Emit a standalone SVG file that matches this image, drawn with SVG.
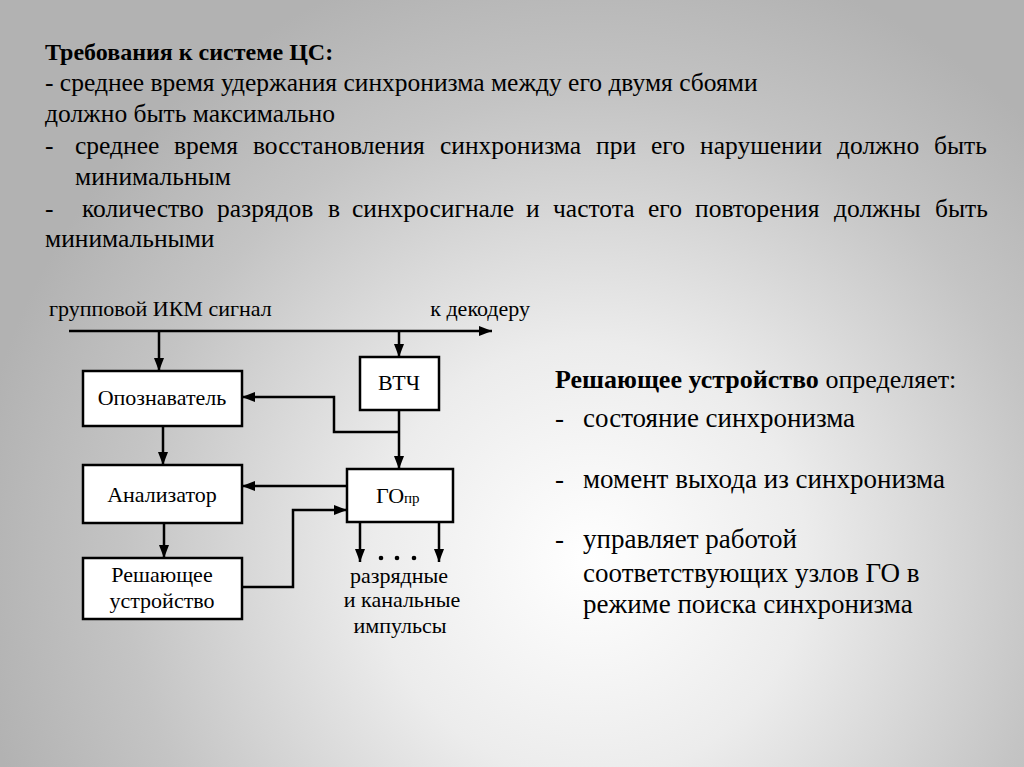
<svg xmlns="http://www.w3.org/2000/svg" width="1024" height="767" viewBox="0 0 1024 767">
<defs>
<radialGradient id="bg" gradientUnits="userSpaceOnUse" cx="590" cy="560" r="620">
<stop offset="0" stop-color="#ffffff"/>
<stop offset="0.35" stop-color="#ececec"/>
<stop offset="0.75" stop-color="#c4c4c4"/>
<stop offset="1" stop-color="#b2b2b2"/>
</radialGradient>
<marker id="ah" viewBox="0 0 13 10" refX="13" refY="5" markerWidth="13" markerHeight="10" markerUnits="userSpaceOnUse" orient="auto">
<path d="M0,0 L13,5 L0,10 Z" fill="#000"/>
</marker>
</defs>
<rect x="0" y="0" width="1024" height="767" fill="url(#bg)"/>

<g id="requirements">
<text x="45" y="60" font-family="Liberation Serif" font-size="24" font-weight="bold">Требования к системе ЦС:</text>
<text x="45" y="91" font-family="Liberation Serif" font-size="25.5">- среднее время удержания синхронизма между его двумя сбоями</text>
<text x="45" y="122" font-family="Liberation Serif" font-size="25.5">должно быть максимально</text>
<text x="45" y="154" font-family="Liberation Serif" font-size="25.5">-</text>
<text y="154" font-family="Liberation Serif" font-size="25.5"><tspan x="75">среднее</tspan> <tspan x="174">время</tspan> <tspan x="253">восстановления</tspan> <tspan x="440">синхронизма</tspan> <tspan x="596">при</tspan> <tspan x="651">его</tspan> <tspan x="700">нарушении</tspan> <tspan x="837">должно</tspan> <tspan x="934">быть</tspan></text>
<text x="75" y="185" font-family="Liberation Serif" font-size="25.5">минимальным</text>
<text x="45" y="217" font-family="Liberation Serif" font-size="25.5">-</text>
<text y="217" font-family="Liberation Serif" font-size="25.5"><tspan x="82">количество</tspan> <tspan x="217">разрядов</tspan> <tspan x="328">в</tspan> <tspan x="352">синхросигнале</tspan> <tspan x="526">и</tspan> <tspan x="553">частота</tspan> <tspan x="648">его</tspan> <tspan x="695">повторения</tspan> <tspan x="834">должны</tspan> <tspan x="935">быть</tspan></text>
<text x="45" y="247" font-family="Liberation Serif" font-size="25.5">минимальными</text>
</g>

<g id="labels">
<text x="49" y="316" font-family="Liberation Serif" font-size="22">групповой ИКМ сигнал</text>
<text x="530" y="316" font-family="Liberation Serif" font-size="22" text-anchor="end">к декодеру</text>
</g>

<g id="connectors" fill="none" stroke="#000" stroke-width="2.5">
<line x1="69" y1="331" x2="492" y2="331" marker-end="url(#ah)"/>
<line x1="159" y1="331" x2="159" y2="371" marker-end="url(#ah)"/>
<line x1="399" y1="331" x2="399" y2="357" marker-end="url(#ah)"/>
<polyline points="399,432 334,432 334,397 242,397" marker-end="url(#ah)"/>
<line x1="399" y1="410" x2="399" y2="469" marker-end="url(#ah)"/>
<line x1="163" y1="426" x2="163" y2="465" marker-end="url(#ah)"/>
<line x1="347" y1="486" x2="242" y2="486" marker-end="url(#ah)"/>
<line x1="164" y1="523" x2="164" y2="558" marker-end="url(#ah)"/>
<polyline points="242,587 293,587 293,510 347,510" marker-end="url(#ah)"/>
<line x1="360" y1="522" x2="360" y2="562" marker-end="url(#ah)"/>
<line x1="439" y1="522" x2="439" y2="562" marker-end="url(#ah)"/>
</g>

<g id="opoznavatel">
<rect x="83" y="371" width="159" height="55" fill="#fff" stroke="#000" stroke-width="2.5"/>
<text x="162" y="405" font-family="Liberation Serif" font-size="22" text-anchor="middle">Опознаватель</text>
</g>
<g id="vtch">
<rect x="360" y="357" width="79" height="53" fill="#fff" stroke="#000" stroke-width="2.5"/>
<text x="399" y="390" font-family="Liberation Serif" font-size="22" text-anchor="middle">ВТЧ</text>
</g>
<g id="analizator">
<rect x="83" y="465" width="159" height="58" fill="#fff" stroke="#000" stroke-width="2.5"/>
<text x="162" y="502" font-family="Liberation Serif" font-size="22" text-anchor="middle">Анализатор</text>
</g>
<g id="gopr">
<rect x="347" y="469" width="106" height="53" fill="#fff" stroke="#000" stroke-width="2.5"/>
<text x="376" y="503" font-family="Liberation Serif" font-size="22">ГО<tspan font-size="15">пр</tspan></text>
</g>
<g id="reshayushchee">
<rect x="83" y="558" width="159" height="61" fill="#fff" stroke="#000" stroke-width="2.5"/>
<text x="162" y="582" font-family="Liberation Serif" font-size="22" text-anchor="middle">Решающее</text>
<text x="162" y="608" font-family="Liberation Serif" font-size="22" text-anchor="middle">устройство</text>
</g>
<g id="outputs">
<circle cx="381" cy="558" r="2.3" fill="#000"/>
<circle cx="397" cy="558" r="2.3" fill="#000"/>
<circle cx="414" cy="558" r="2.3" fill="#000"/>
<text x="399" y="583" font-family="Liberation Serif" font-size="22" text-anchor="middle">разрядные</text>
<text x="402" y="607" font-family="Liberation Serif" font-size="22" text-anchor="middle">и канальные</text>
<text x="400" y="633" font-family="Liberation Serif" font-size="22" text-anchor="middle">импульсы</text>
</g>

<g id="decision">
<text x="555" y="388" font-family="Liberation Serif" font-size="26"><tspan font-weight="bold">Решающее устройство</tspan> определяет:</text>
<text x="555" y="427" font-family="Liberation Serif" font-size="27">-</text>
<text x="583" y="427" font-family="Liberation Serif" font-size="27">состояние синхронизма</text>
<text x="555" y="488" font-family="Liberation Serif" font-size="27">-</text>
<text x="583" y="488" font-family="Liberation Serif" font-size="27">момент выхода из синхронизма</text>
<text x="555" y="548" font-family="Liberation Serif" font-size="27">-</text>
<text x="583" y="548" font-family="Liberation Serif" font-size="27">управляет работой</text>
<text x="583" y="582" font-family="Liberation Serif" font-size="27">соответствующих узлов ГО в</text>
<text x="583" y="613" font-family="Liberation Serif" font-size="27">режиме поиска синхронизма</text>
</g>
</svg>
